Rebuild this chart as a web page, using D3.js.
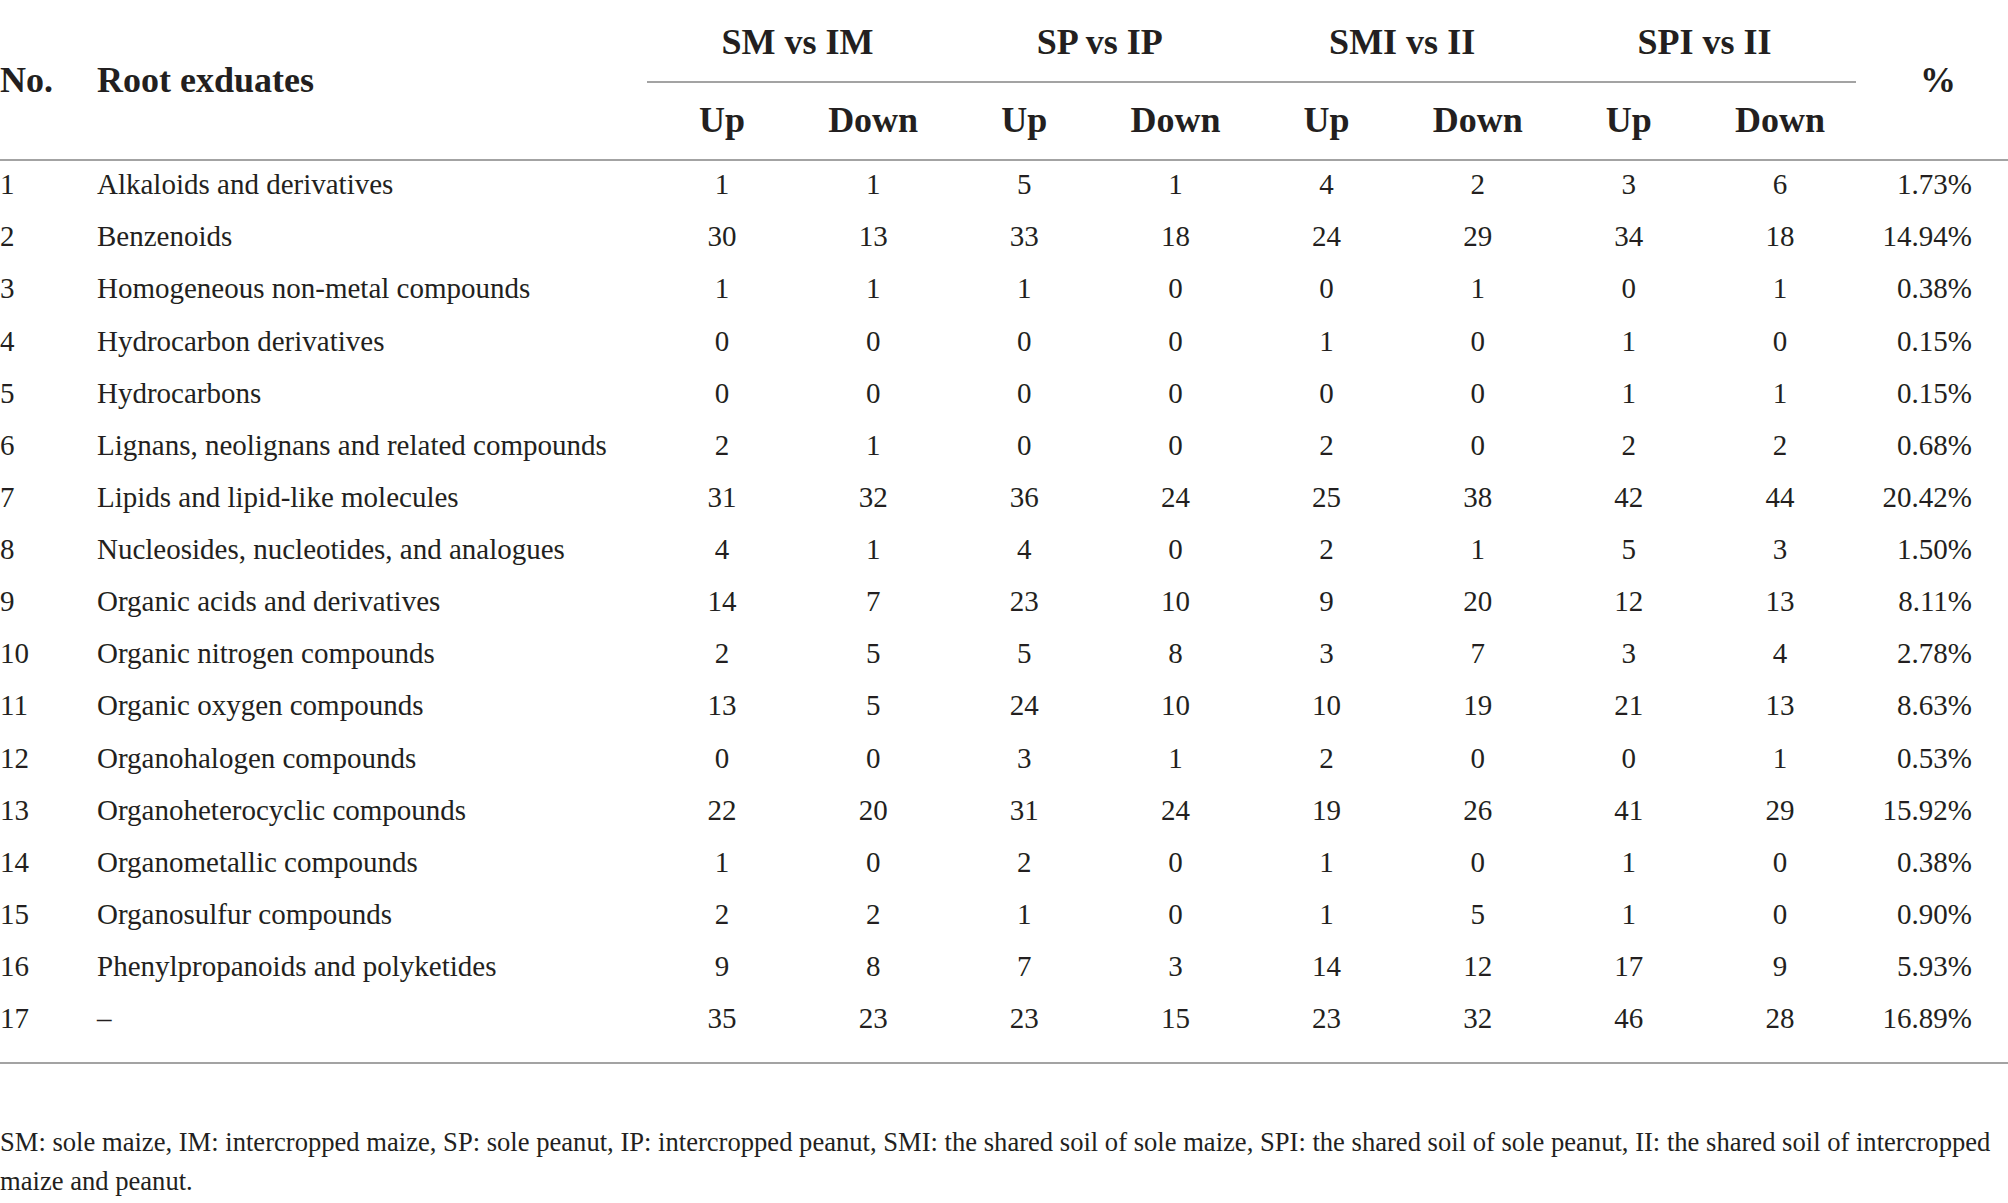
<!DOCTYPE html>
<html>
<head>
<meta charset="utf-8">
<script src="https://cdn.jsdelivr.net/npm/d3@7"></script>
<style>
  html, body { margin: 0; padding: 0; background: #ffffff; }
  svg { display: block; }
  text { font-family: "Liberation Serif", "Times New Roman", serif; fill: #231f20; }
</style>
</head>
<body>
<svg id="chart" width="2008" height="1203"></svg>
<script>
// ---- data ----
const rowNumbers = [1,2,3,4,5,6,7,8,9,10,11,12,13,14,15,16,17];
const categories = [
  "Alkaloids and derivatives",
  "Benzenoids",
  "Homogeneous non-metal compounds",
  "Hydrocarbon derivatives",
  "Hydrocarbons",
  "Lignans, neolignans and related compounds",
  "Lipids and lipid-like molecules",
  "Nucleosides, nucleotides, and analogues",
  "Organic acids and derivatives",
  "Organic nitrogen compounds",
  "Organic oxygen compounds",
  "Organohalogen compounds",
  "Organoheterocyclic compounds",
  "Organometallic compounds",
  "Organosulfur compounds",
  "Phenylpropanoids and polyketides",
  "\u2013"
];
const groups = ["SM vs IM", "SP vs IP", "SMI vs II", "SPI vs II"];
const subHeaders = ["Up", "Down"];
const smImUp   = [1,30,1,0,0,2,31,4,14,2,13,0,22,1,2,9,35];
const smImDown = [1,13,1,0,0,1,32,1,7,5,5,0,20,0,2,8,23];
const spIpUp   = [5,33,1,0,0,0,36,4,23,5,24,3,31,2,1,7,23];
const spIpDown = [1,18,0,0,0,0,24,0,10,8,10,1,24,0,0,3,15];
const smiIiUp  = [4,24,0,1,0,2,25,2,9,3,10,2,19,1,1,14,23];
const smiIiDown= [2,29,1,0,0,0,38,1,20,7,19,0,26,0,5,12,32];
const spiIiUp  = [3,34,0,1,1,2,42,5,12,3,21,0,41,1,1,17,46];
const spiIiDown= [6,18,1,0,1,2,44,3,13,4,13,1,29,0,0,9,28];
const percent  = ["1.73%","14.94%","0.38%","0.15%","0.15%","0.68%","20.42%","1.50%","8.11%","2.78%","8.63%","0.53%","15.92%","0.38%","0.90%","5.93%","16.89%"];
const headerNo = "No.";
const headerName = "Root exduates";
const headerPct = "%";
const footnoteLines = [
  "SM: sole maize, IM: intercropped maize, SP: sole peanut, IP: intercropped peanut, SMI: the shared soil of sole maize, SPI: the shared soil of sole peanut, II: the shared soil of intercropped",
  "maize and peanut."
];

// ---- layout ----
const W = 2008;
const svg = d3.select("#chart");
const valueSeries = [smImUp, smImDown, spIpUp, spIpDown, smiIiUp, smiIiDown, spiIiUp, spiIiDown];
const colKeys = d3.range(valueSeries.length);

const x = d3.scalePoint().domain(colKeys).range([722, 1780]);
const y = d3.scalePoint().domain(d3.range(categories.length)).range([184, 1018]);

const bodySize = 29, headSize = 36, footSize = 26.6;
const lineColor = "#a3a3a3";

// header lines
svg.append("line").attr("x1", 647).attr("x2", 1856).attr("y1", 82).attr("y2", 82)
  .attr("stroke", lineColor).attr("stroke-width", 2);
svg.append("line").attr("x1", 0).attr("x2", W).attr("y1", 160).attr("y2", 160)
  .attr("stroke", lineColor).attr("stroke-width", 2);
svg.append("line").attr("x1", 0).attr("x2", W).attr("y1", 1063).attr("y2", 1063)
  .attr("stroke", lineColor).attr("stroke-width", 2);

// header texts
const head = svg.append("g").attr("font-weight", "bold").attr("font-size", headSize);
head.append("text").attr("x", 0).attr("y", 79).attr("dy", "0.35em").text(headerNo);
head.append("text").attr("x", 97).attr("y", 79).attr("dy", "0.35em").text(headerName);
head.append("text").attr("x", 1938).attr("y", 79).attr("dy", "0.35em").attr("text-anchor", "middle").text(headerPct);
head.selectAll("text.grp").data(groups).join("text").attr("class", "grp")
  .attr("x", (d, i) => (x(i * 2) + x(i * 2 + 1)) / 2)
  .attr("y", 41).attr("dy", "0.35em").attr("text-anchor", "middle").text(d => d);
head.selectAll("text.sub").data(colKeys).join("text").attr("class", "sub")
  .attr("x", d => x(d)).attr("y", 119).attr("dy", "0.35em").attr("text-anchor", "middle")
  .text(d => subHeaders[d % 2]);

// body rows
const body = svg.append("g").attr("font-size", bodySize);
const rows = body.selectAll("g.row").data(categories).join("g").attr("class", "row");
rows.append("text").attr("x", 0).attr("y", (d, i) => y(i)).attr("dy", "0.35em").text((d, i) => rowNumbers[i]);
rows.append("text").attr("x", 97).attr("y", (d, i) => y(i)).attr("dy", "0.35em").text(d => d);
colKeys.forEach(c => {
  body.selectAll("text.v" + c).data(valueSeries[c]).join("text").attr("class", "v" + c)
    .attr("x", x(c)).attr("y", (d, i) => y(i)).attr("dy", "0.35em").attr("text-anchor", "middle")
    .text(d => d);
});
body.selectAll("text.pct").data(percent).join("text").attr("class", "pct")
  .attr("x", 1972).attr("y", (d, i) => y(i)).attr("dy", "0.35em").attr("text-anchor", "end")
  .text(d => d);

// footnote
svg.append("g").attr("font-size", footSize).selectAll("text").data(footnoteLines).join("text")
  .attr("x", 0).attr("y", (d, i) => 1142 + i * 39).attr("dy", "0.35em").text(d => d);
</script>
</body>
</html>
